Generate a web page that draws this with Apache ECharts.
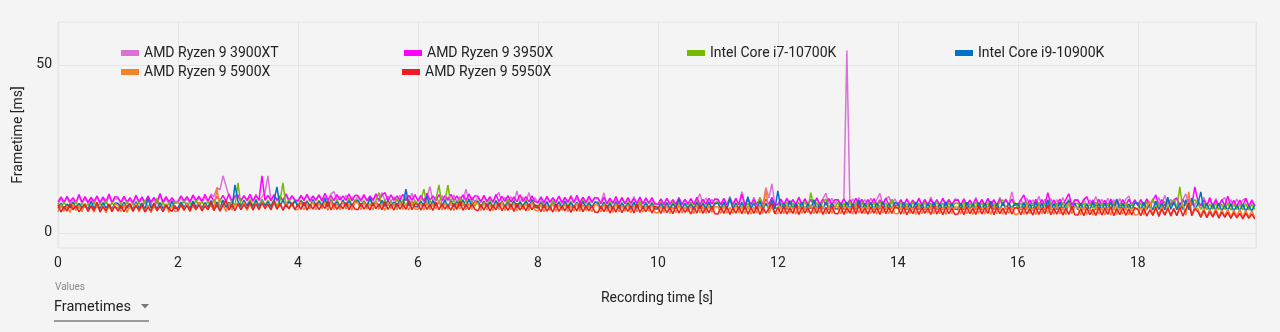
<!DOCTYPE html>
<html>
<head>
<meta charset="utf-8">
<script src="https://cdn.jsdelivr.net/npm/echarts@6/dist/echarts.min.js"></script>
<style>
html,body{margin:0;padding:0;background:#f4f4f4;}
#chart{width:1280px;height:332px;}
</style>
</head>
<body>
<div id="chart"></div>
<script>
// Recording sample spacing [s]
const timeStep = 0.05;
const xTickLabels = ['0','2','4','6','8','10','12','14','16','18'];
const yTickValues = [0, 50];

const seriesNames = ['AMD Ryzen 9 3900XT','AMD Ryzen 9 3950X','Intel Core i7-10700K','Intel Core i9-10900K','AMD Ryzen 9 5900X','AMD Ryzen 9 5950X'];

// Frametimes [ms], one row per second of recording
const ryzen3900XT = [
8.6,10.1,8.8,10.6,8.5,9.9,8.7,11.3,8.6,10.2,8.9,10.0,8.5,10.8,8.7,10.3,8.6,11.0,8.8,10.1,
10.2,8.6,10.7,8.8,9.9,8.5,11.2,8.7,10.1,8.6,10.5,8.8,10.0,8.5,11.5,8.7,10.3,8.6,10.0,8.8,
9.0,10.5,9.1,10.2,8.9,11.0,9.2,10.4,9.0,10.7,9.1,11.6,10.8,13.5,12.8,17.0,14.0,10.9,9.0,10.6,
10.9,9.4,11.2,9.5,10.7,9.3,11.5,9.6,10.8,12.0,17.0,9.5,11.0,9.4,10.6,9.6,11.4,9.3,10.9,9.5,
9.4,10.9,9.6,11.3,9.3,10.8,9.5,11.1,9.4,10.7,9.6,11.6,12.3,9.5,10.9,9.3,11.2,9.5,10.8,9.4,
10.8,9.3,11.1,9.5,10.6,9.4,11.4,9.3,12.0,9.5,10.9,9.4,10.7,9.3,11.2,9.5,10.8,9.4,11.8,9.3,
9.3,10.9,9.2,10.6,13.8,9.4,10.8,9.2,11.1,9.3,10.7,9.4,11.3,9.2,10.8,9.3,13.0,9.4,10.6,9.2,
10.5,9.0,10.8,9.1,10.4,9.0,10.9,12.0,9.1,10.6,9.0,10.8,9.1,12.5,9.0,10.7,9.1,12.0,9.0,10.5,
8.8,10.3,8.7,10.6,8.9,10.2,8.8,10.9,8.7,10.4,8.8,11.2,8.9,10.3,8.7,10.7,8.8,10.2,8.9,10.5,
10.2,8.6,12.0,8.5,10.4,8.6,10.0,8.5,10.6,8.6,10.1,8.4,10.8,8.6,10.2,8.5,10.5,8.6,10.0,8.4,
8.4,9.9,8.5,10.3,8.3,9.8,8.4,10.6,8.5,10.0,8.3,10.2,8.4,9.9,11.6,8.5,10.4,8.3,10.0,8.4,
9.9,8.4,10.3,8.5,10.8,8.3,10.1,8.4,12.3,8.5,10.2,8.3,10.6,8.4,10.0,8.5,13.5,10.4,14.6,8.4,
8.5,10.1,8.4,10.4,8.6,9.9,8.5,10.7,8.4,10.2,8.6,10.0,8.5,10.5,8.4,10.1,11.8,8.6,10.3,8.5,
10.0,8.5,10.2,54.3,8.4,10.1,8.6,10.5,8.4,9.9,8.5,10.3,8.6,10.0,11.8,8.4,10.2,10.8,8.5,10.1,
8.4,9.9,8.3,10.2,8.5,9.8,8.3,10.4,8.4,10.0,8.3,10.7,8.5,9.9,8.3,10.3,8.4,10.0,8.3,10.1,
9.9,8.3,10.2,8.4,9.8,8.3,10.5,8.4,10.0,8.3,10.3,8.5,9.9,8.3,10.6,8.4,10.1,8.3,12.2,8.4,
8.3,9.9,8.2,10.3,8.4,9.8,8.3,10.9,8.2,10.0,8.4,10.2,8.3,9.9,8.2,10.5,8.3,10.0,8.4,9.8,
9.9,8.3,10.1,8.2,9.8,8.4,10.8,8.3,10.0,8.2,10.3,8.4,9.9,8.3,10.2,8.2,10.0,11.0,8.3,9.9,
8.3,10.0,8.2,10.2,8.4,9.9,8.3,10.5,8.2,11.2,8.4,10.0,8.3,10.3,8.2,9.9,11.6,8.3,10.1,8.2,
9.8,8.1,10.6,8.2,9.9,8.0,10.2,8.1,9.7,10.5,8.2,9.9,8.0,10.1,8.1,9.8,10.3,8.0,9.9,8.1
];
const ryzen3950X = [
9.2,10.7,9.1,10.9,9.3,10.5,9.0,11.4,9.2,10.8,9.1,10.6,9.3,11.0,9.0,10.7,9.2,11.6,9.1,10.8,
10.6,9.1,10.9,9.2,10.5,9.0,11.2,9.3,10.7,9.1,11.0,9.2,10.6,9.0,11.7,9.1,10.8,9.3,10.5,9.2,
9.4,11.0,9.5,10.8,9.3,11.3,9.6,10.9,9.4,11.5,9.5,11.0,9.3,10.8,9.6,11.2,9.4,11.6,9.5,11.0,
11.3,9.6,11.0,9.7,11.5,9.6,11.1,9.8,17.0,9.7,11.2,9.6,11.4,9.8,11.0,9.6,11.6,9.7,11.1,9.8,
9.6,11.2,9.7,11.5,9.6,11.0,9.8,11.3,9.6,11.8,9.7,11.1,9.6,11.4,9.8,11.0,9.7,11.6,9.6,11.2,
11.1,9.7,11.4,9.6,11.0,9.8,11.6,9.7,11.2,12.0,9.6,11.3,9.7,11.0,9.8,11.5,9.6,11.2,9.7,11.4,
9.6,11.2,9.5,11.8,9.7,11.0,9.6,11.4,9.5,11.1,9.7,11.5,9.6,11.0,9.5,11.3,9.6,11.6,9.7,11.1,
10.9,9.3,11.2,9.4,10.8,9.2,11.4,9.3,10.9,9.4,11.1,9.2,10.7,9.3,11.3,9.4,10.8,9.2,11.0,9.3,
9.1,10.7,9.0,10.9,9.2,10.5,9.1,11.0,9.0,10.6,9.2,10.8,9.1,11.2,9.0,10.6,9.1,10.9,9.2,10.5,
10.4,8.8,10.6,8.7,10.3,8.9,10.8,8.8,10.4,8.7,10.5,8.9,10.2,8.8,10.7,8.7,10.3,8.9,10.5,8.8,
8.5,10.1,8.4,10.3,8.6,9.9,8.5,10.4,8.4,10.0,8.6,10.2,8.5,10.6,8.4,10.0,8.5,10.3,8.6,10.1,
10.0,8.4,10.2,8.3,9.9,8.5,10.3,8.4,11.5,8.3,10.1,8.5,9.9,8.4,10.4,8.3,10.0,8.5,10.6,8.4,
8.4,10.0,8.3,10.2,8.5,9.9,8.4,10.5,8.3,10.1,8.4,9.9,8.5,10.3,8.3,10.0,8.4,10.2,8.5,9.9,
9.9,8.3,10.1,8.4,9.8,8.3,10.3,8.4,10.0,8.2,9.9,8.4,10.2,8.3,9.8,8.4,10.4,8.3,10.0,8.2,
8.2,9.8,8.3,10.0,8.1,9.7,8.3,10.2,8.2,9.9,8.1,10.0,8.3,9.8,8.2,10.3,8.1,9.9,8.3,9.7,
9.8,8.2,10.0,8.1,9.7,8.3,10.1,8.2,9.9,8.1,10.2,8.3,9.8,8.2,10.0,8.1,9.9,8.3,10.1,8.2,
8.2,9.9,11.3,8.3,9.8,8.1,10.0,8.2,9.9,8.3,12.0,8.2,9.8,8.1,10.1,8.3,9.9,11.7,8.2,9.8,
9.7,8.1,9.9,10.8,8.2,9.8,8.1,10.0,8.2,9.7,8.1,10.1,8.2,9.8,8.1,9.9,8.2,10.0,8.1,9.8,
8.1,9.8,8.2,10.0,8.1,9.7,11.3,8.2,9.9,8.1,10.1,8.2,9.8,10.4,8.1,9.9,8.2,10.0,8.1,13.7,
9.6,8.0,9.8,8.1,10.5,7.9,9.7,8.0,9.9,8.1,10.9,8.0,9.7,7.9,9.8,8.0,10.3,7.9,9.6,8.0
];
const corei7_10700K = [
8.9,7.5,9.2,7.4,8.8,7.6,9.5,7.3,9.0,7.5,8.7,7.6,9.3,7.4,8.9,7.5,9.6,7.3,9.1,7.6,
7.4,9.0,7.6,9.4,7.3,8.9,7.5,9.2,7.4,9.7,7.6,8.8,7.3,10.4,7.5,9.1,7.4,8.9,7.6,9.3,
9.3,7.7,9.6,7.8,9.2,7.6,9.8,7.9,9.4,7.7,9.5,7.8,9.9,7.6,10.2,7.8,9.4,7.7,9.7,7.9,
14.9,8.0,9.6,8.2,9.9,8.1,9.5,8.0,10.1,8.2,9.7,8.0,9.8,8.1,9.5,14.9,8.2,9.9,8.0,9.7,
8.1,9.8,8.2,9.6,8.0,10.0,8.1,9.7,8.3,9.5,8.0,10.2,8.2,9.8,8.1,9.6,8.0,10.4,8.2,9.7,
9.9,8.1,9.6,8.2,10.1,8.0,9.7,12.0,8.2,9.8,8.1,9.5,8.0,10.3,8.2,9.7,8.1,9.9,8.0,9.6,
8.1,9.8,13.0,8.2,9.7,8.0,9.9,14.3,8.1,9.6,14.2,8.2,9.8,8.0,10.2,8.1,9.7,8.2,9.5,8.0,
9.6,7.9,9.4,8.0,9.8,7.8,9.5,8.1,9.3,7.9,10.1,8.0,9.6,7.8,9.4,8.0,9.7,7.9,9.5,8.1,
7.7,9.4,7.8,9.2,7.6,9.6,7.8,9.3,7.7,9.1,7.9,9.5,7.6,9.2,7.8,9.8,7.7,9.3,7.6,9.1,
9.2,7.5,9.0,7.6,9.4,7.4,9.1,7.6,8.9,7.5,9.3,7.4,9.0,7.6,9.5,7.5,8.9,7.4,9.2,7.6,
7.4,9.1,7.5,8.9,7.3,9.3,7.5,9.0,7.4,8.8,7.5,9.2,7.3,9.6,7.4,8.9,7.5,9.1,7.3,9.0,
9.1,7.4,8.9,7.5,10.3,7.3,9.0,7.4,9.2,7.5,8.8,7.3,9.1,7.4,10.6,7.5,8.9,7.3,9.3,7.4,
7.5,9.0,7.3,9.2,7.4,8.9,7.5,9.1,7.3,9.4,7.4,12.0,7.5,9.0,7.3,9.2,10.1,7.4,8.9,7.5,
9.1,7.4,8.9,7.5,9.3,7.3,9.0,7.4,9.2,7.5,8.8,7.3,9.1,7.4,9.4,7.5,8.9,7.3,10.0,7.4,
7.3,9.0,7.4,8.8,7.2,9.2,7.4,8.9,7.3,9.1,7.2,8.8,7.4,9.3,7.3,8.9,7.2,9.0,7.4,8.8,
8.9,7.3,9.1,7.2,8.8,7.4,9.2,7.3,8.9,7.2,9.0,7.4,8.8,7.3,9.3,9.8,7.2,8.9,7.3,9.1,
7.2,8.9,7.3,9.1,7.1,8.8,7.3,9.0,7.2,8.7,7.3,9.2,7.1,8.9,7.2,9.0,7.3,9.6,7.2,8.8,
8.8,7.2,9.0,7.1,8.7,7.3,9.1,7.2,8.9,7.1,8.8,7.3,9.2,7.2,8.9,7.1,9.0,7.3,8.7,7.2,
7.2,8.9,7.1,9.2,7.3,10.2,7.2,8.9,7.1,9.4,7.3,9.0,9.8,7.2,13.7,7.1,9.1,7.3,8.9,9.9,
8.7,7.0,8.9,6.9,8.6,7.1,8.8,6.9,8.5,7.0,8.9,6.8,8.6,7.0,8.4,6.9,8.7,6.8,8.5,6.9
];
const corei9_10900K = [
7.3,8.9,7.1,8.6,7.4,9.2,7.2,8.8,7.5,8.5,7.0,9.4,7.3,8.7,7.2,9.0,7.4,8.6,7.1,8.9,
8.8,7.2,9.1,7.4,8.6,7.0,9.3,7.3,8.9,7.1,10.2,7.4,8.7,7.2,9.0,7.3,8.5,7.1,9.5,7.2,
7.5,9.2,7.6,8.9,7.3,9.5,7.7,9.1,7.4,9.0,7.6,9.6,7.5,9.2,7.3,9.8,7.6,9.1,7.4,14.3,
9.4,7.8,9.7,8.0,9.3,7.7,9.9,7.9,9.5,8.1,9.2,7.8,9.6,13.7,7.9,9.8,7.7,9.4,8.0,9.6,
7.8,9.5,8.0,9.3,7.7,9.8,7.9,9.4,8.1,10.3,7.8,9.6,8.0,9.2,7.7,9.7,7.9,9.5,8.0,9.3,
9.6,7.9,9.4,7.7,10.5,8.0,9.3,7.8,9.7,7.9,9.5,8.1,9.2,7.7,9.8,7.9,13.0,8.0,9.4,7.8,
7.8,9.4,7.9,11.0,7.7,9.6,8.0,9.3,7.8,9.8,7.9,9.5,7.7,9.2,8.0,9.7,7.8,10.1,7.9,9.4,
9.2,7.6,9.4,7.7,9.1,7.5,9.6,7.8,9.3,7.6,9.0,7.7,9.5,7.5,9.2,7.8,9.4,7.6,9.9,7.7,
7.4,9.0,7.5,9.3,7.3,8.9,7.6,9.2,7.4,9.5,7.3,9.0,7.5,9.1,7.2,9.4,7.4,8.9,7.6,9.2,
8.8,7.2,9.1,7.3,8.7,7.1,9.3,7.2,8.9,7.4,8.8,7.1,9.2,7.3,8.6,7.2,9.0,7.3,8.8,7.1,
7.1,8.8,7.2,9.0,7.0,8.7,7.3,10.1,7.1,8.9,7.2,8.6,7.0,9.1,7.2,8.8,7.1,9.3,7.0,8.7,
8.9,7.1,9.2,7.0,10.4,7.2,8.8,7.1,9.0,7.0,10.8,7.2,8.9,7.1,9.4,7.0,8.7,7.2,9.8,7.1,
12.5,7.1,8.9,7.0,9.6,7.2,8.8,7.1,9.1,7.0,8.7,7.2,9.9,7.0,8.9,7.1,9.2,7.0,8.8,7.2,
7.1,8.9,7.0,9.2,7.2,8.7,7.0,9.7,7.1,8.8,7.2,9.0,7.0,8.9,7.1,9.3,7.0,8.7,7.2,9.0,
8.8,7.0,9.0,6.9,8.7,7.1,9.2,7.0,8.6,6.9,8.9,7.1,9.1,7.0,8.7,6.9,9.3,7.0,8.8,7.1,
7.0,8.8,6.9,9.1,7.1,8.6,7.0,9.0,6.9,8.8,7.1,9.4,7.0,8.7,6.9,9.0,7.1,8.9,7.0,8.7,
8.7,6.9,9.0,7.0,8.6,6.8,9.2,7.0,8.8,6.9,9.8,7.0,8.7,6.9,9.1,7.0,8.6,9.6,6.9,8.9,
6.9,8.8,7.0,8.6,6.8,9.1,6.9,8.7,7.0,8.9,6.8,9.3,7.0,10.1,6.9,8.8,7.0,8.6,6.8,9.0,
8.9,6.9,9.1,7.0,8.7,6.8,9.4,7.0,8.8,6.9,10.6,7.0,9.2,6.9,8.8,7.0,9.9,6.9,10.3,7.0,
8.5,12.2,6.8,8.7,6.6,8.4,6.7,8.8,6.5,8.3,6.7,8.6,6.5,8.2,6.6,8.5,6.4,8.1,6.5,8.3
];
const ryzen5900X = [
6.2,8.4,6.5,8.0,6.1,8.6,6.7,8.2,6.3,8.8,6.4,7.9,6.2,8.5,6.6,8.1,6.0,8.3,6.5,8.7,
8.2,6.3,8.6,6.1,8.0,6.5,8.9,6.2,8.3,6.4,8.1,6.0,8.5,6.6,8.2,6.3,8.7,6.1,8.0,6.4,
6.5,8.4,6.7,8.8,6.4,8.2,6.8,9.1,6.5,8.5,6.9,8.3,6.6,13.4,6.7,8.6,6.4,8.9,6.8,8.3,
8.8,6.9,9.2,6.7,8.6,7.0,9.0,6.8,9.4,7.1,8.7,6.8,9.1,7.0,8.9,6.7,9.3,7.1,8.8,6.9,
7.0,9.1,6.8,8.7,7.1,9.4,6.9,8.9,7.2,9.0,6.7,9.5,7.0,8.8,6.9,9.2,7.1,8.6,6.8,9.1,
8.9,6.9,9.2,7.1,8.7,6.8,9.5,7.0,8.9,6.7,9.1,7.2,8.8,6.9,9.3,7.0,8.6,6.8,9.4,7.1,
7.0,8.8,6.8,9.1,6.9,8.7,7.1,9.6,6.8,8.9,7.0,9.2,6.7,8.8,7.1,9.0,6.9,8.6,7.0,9.3,
8.7,6.7,9.0,6.9,8.5,6.6,8.8,7.0,9.1,6.7,8.6,6.9,8.9,6.6,8.4,7.0,8.8,6.7,9.2,6.8,
6.5,8.5,6.3,8.2,6.6,8.8,6.4,8.3,6.7,8.6,6.3,8.1,6.5,8.9,6.4,8.4,6.6,8.2,6.3,8.5,
8.2,6.2,8.5,6.4,8.0,6.1,8.7,6.3,8.1,6.5,8.4,6.0,8.2,6.3,8.6,6.2,7.9,6.4,8.3,6.1,
5.9,7.9,6.1,8.2,5.8,7.7,6.0,8.4,5.9,7.8,6.2,8.0,5.7,8.3,6.0,7.9,5.8,8.1,6.1,7.8,
7.8,5.8,8.1,5.9,7.6,5.7,8.3,6.0,7.9,5.8,8.0,5.6,7.7,5.9,8.2,5.7,13.2,5.9,7.8,5.8,
5.8,7.9,5.7,8.2,5.9,7.6,5.6,8.0,5.8,7.8,6.0,8.4,5.7,7.7,5.9,8.1,5.6,7.9,5.8,7.7,
7.9,5.7,8.1,5.8,7.6,5.6,8.4,5.9,7.8,5.7,8.0,5.8,7.7,5.6,8.2,5.9,7.9,5.7,8.0,5.8,
5.7,7.8,5.6,8.0,5.8,7.5,5.5,8.2,5.7,7.7,5.9,7.9,5.6,8.1,5.7,7.6,5.5,7.9,5.8,7.7,
7.7,5.6,8.0,5.7,7.5,5.5,8.1,5.8,7.8,5.6,7.9,5.5,8.3,5.7,7.6,5.6,8.0,5.8,7.7,5.5,
5.6,7.7,5.5,7.9,5.7,7.4,5.4,8.1,5.6,7.6,5.8,7.8,5.5,8.2,5.6,7.5,5.4,9.0,5.7,7.8,
7.5,5.4,7.8,5.5,7.3,5.3,7.9,5.6,7.6,5.4,7.7,5.3,8.0,5.5,7.4,5.6,7.8,5.4,7.5,5.3,
5.4,7.5,5.3,7.7,9.3,5.2,7.4,5.5,7.9,5.3,7.6,5.4,7.3,5.2,7.8,8.4,5.3,12.2,5.4,7.6,
7.2,5.0,7.4,4.9,7.0,5.1,7.3,4.8,6.9,5.0,7.1,4.7,6.8,4.9,7.0,4.7,6.7,4.8,6.6,4.6
];
const ryzen5950X = [
8.3,6.2,7.9,6.5,8.6,6.9,8.1,6.3,7.6,8.4,6.4,8.0,6.7,9.1,6.2,7.8,6.6,8.5,6.3,8.0,
6.5,8.2,6.3,7.9,8.7,6.4,8.1,6.8,8.4,6.2,7.7,6.5,8.9,6.6,8.0,6.3,8.3,7.0,6.4,8.1,
6.6,8.4,6.8,8.1,6.5,8.8,7.0,8.3,6.6,8.0,6.9,9.2,6.7,8.4,6.5,8.2,9.8,6.8,8.6,6.6,
8.7,6.9,8.4,7.2,9.1,6.8,8.6,7.0,8.9,7.3,8.5,6.9,9.6,7.1,8.8,6.8,8.4,7.2,9.0,6.9,
8.6,7.0,9.2,6.8,8.5,7.1,8.9,6.9,8.4,7.3,9.4,6.8,8.7,7.0,8.3,7.2,9.0,6.9,8.6,7.1,
6.9,8.8,7.1,8.5,6.8,9.0,7.2,8.6,6.9,9.3,7.0,8.4,6.8,8.9,7.1,8.5,7.0,9.6,6.9,8.7,
8.5,6.8,8.9,7.0,8.4,6.7,9.1,6.9,8.6,7.1,8.3,6.8,8.8,7.0,9.4,6.7,8.5,6.9,8.7,7.0,
6.6,8.4,6.8,8.7,6.5,8.2,6.9,9.0,6.6,8.3,6.7,8.5,6.4,8.8,6.8,8.1,6.6,8.6,6.9,8.3,
8.1,6.3,8.4,6.5,7.9,6.2,8.6,6.4,8.0,6.6,8.3,6.1,8.2,6.5,8.8,6.3,7.9,6.6,8.1,6.2,
6.1,7.9,6.3,8.2,5.9,7.8,6.2,8.4,6.0,7.7,6.4,8.1,5.9,8.6,6.1,7.8,6.3,8.0,5.9,7.9,
7.6,5.8,7.9,6.0,7.5,5.7,8.1,5.9,7.7,6.1,7.4,5.6,7.8,5.9,8.3,5.8,7.6,6.0,7.9,5.7,
5.6,7.5,5.8,7.8,5.5,7.4,5.9,7.7,5.7,8.1,5.6,7.5,5.8,7.9,5.5,7.6,5.9,7.3,8.6,5.7,
7.6,5.7,7.9,5.6,7.4,5.8,8.2,5.5,7.7,5.9,7.5,5.6,7.8,5.8,8.0,5.5,7.6,5.7,7.9,5.8,
5.7,7.8,5.5,7.5,5.9,7.9,5.6,8.3,5.8,7.4,5.6,7.7,5.9,7.5,5.5,8.0,5.7,7.6,5.8,7.8,
7.5,5.6,7.8,5.4,7.3,5.7,7.9,5.5,7.6,5.8,7.4,5.5,8.1,5.6,7.5,5.4,7.7,5.7,7.4,5.5,
5.6,7.6,5.4,7.8,5.7,7.3,5.5,7.9,5.6,7.5,5.8,8.2,5.4,7.6,5.7,7.4,5.5,7.8,5.6,7.5,
7.4,5.4,7.7,5.6,7.2,5.3,7.8,5.5,7.5,5.7,8.3,5.4,7.3,5.6,7.6,5.3,7.4,5.5,7.9,5.4,
5.3,7.2,5.1,7.5,5.4,7.0,5.2,7.6,5.3,7.3,5.5,7.8,5.1,7.2,5.4,7.4,5.2,7.1,5.3,7.5,
7.0,5.1,7.3,5.0,6.9,5.2,7.6,4.9,7.1,5.3,7.4,5.0,7.2,5.1,7.7,5.0,7.0,8.9,5.1,7.2,
6.4,4.6,6.6,4.5,6.3,4.7,6.5,4.4,6.2,4.6,6.1,4.3,6.0,4.5,5.8,4.2,5.9,4.3,5.6,4.2
];

const seriesValues = [ryzen3900XT, ryzen3950X, corei7_10700K, corei9_10900K, ryzen5900X, ryzen5950X];
const seriesColors = ['#da72d6', '#ff00ff', '#76b900', '#0071c5', '#f5822a', '#ee1c25'];

const FONT = 'Roboto, "Noto Sans", sans-serif';
const legendPos = [
  {left: 121, top: 46}, {left: 404, top: 46}, {left: 687, top: 46}, {left: 955, top: 46},
  {left: 121, top: 65}, {left: 402, top: 65}
];

const chart = echarts.init(document.getElementById('chart'));
chart.setOption({
  animation: false,
  backgroundColor: '#f4f4f4',
  grid: {left: 58, right: 24, top: 22, bottom: 84, show: true, borderColor: '#e4e4e4', borderWidth: 1, backgroundColor: 'transparent'},
  legend: seriesNames.map((n, i) => ({
    data: [n], left: legendPos[i].left, top: legendPos[i].top, padding: 0,
    icon: 'rect', itemWidth: 18, itemHeight: 6, itemGap: 0,
    textStyle: {fontSize: 14, color: '#222', fontFamily: FONT}
  })),
  xAxis: {
    type: 'value', min: 0, max: 19.97, interval: 2,
    name: 'Recording time [s]', nameLocation: 'middle', nameGap: 43,
    nameTextStyle: {fontSize: 14, color: '#222', fontFamily: FONT},
    axisLine: {show: false}, axisTick: {show: false},
    axisLabel: {showMaxLabel: false, fontSize: 14, color: '#222', margin: 8, fontFamily: FONT,
      formatter: v => xTickLabels[Math.round(v / 2)] ?? ''},
    splitLine: {show: true, lineStyle: {color: '#e4e4e4', width: 1}}
  },
  yAxis: {
    type: 'value', min: -4.5, max: 62.8,
    name: 'Frametime [ms]', nameLocation: 'middle', nameGap: 22,
    nameTextStyle: {fontSize: 14, color: '#222', fontFamily: FONT},
    axisLine: {show: false},
    axisTick: {show: false, customValues: yTickValues},
    axisLabel: {customValues: yTickValues, fontSize: 14, color: '#222', margin: 6, fontFamily: FONT},
    splitLine: {show: true, lineStyle: {color: '#e4e4e4', width: 1}}
  },
  series: seriesNames.map((n, i) => ({
    name: n, type: 'line', showSymbol: false, symbol: 'none',
    color: seriesColors[i],
    lineStyle: {width: 1.5, color: seriesColors[i]},
    data: seriesValues[i].map((v, k) => [k * timeStep, v])
  })),
  graphic: [
    {type: 'text', left: 55, top: 282, style: {text: 'Values', fontSize: 10, fill: '#888', fontFamily: FONT}},
    {type: 'text', left: 54, top: 300, style: {text: 'Frametimes', fontSize: 14.5, fill: '#222', fontFamily: FONT}},
    {type: 'polygon', shape: {points: [[141, 304], [149, 304], [145, 308.5]]}, style: {fill: '#777'}},
    {type: 'rect', shape: {x: 54, y: 320, width: 95, height: 2}, style: {fill: '#9a9a9a'}}
  ]
});
</script>
</body>
</html>
